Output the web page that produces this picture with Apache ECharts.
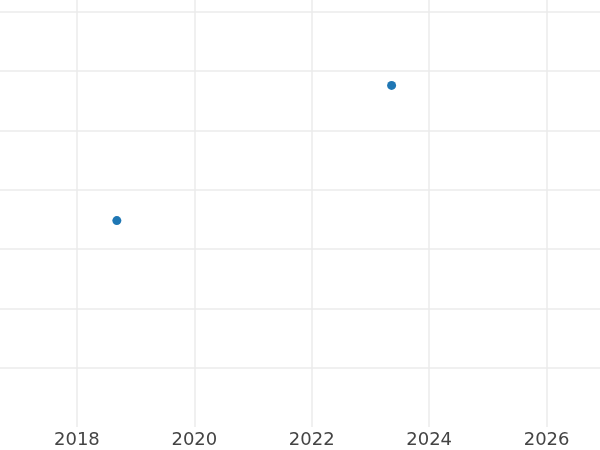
<!DOCTYPE html>
<html>
<head>
<meta charset="utf-8">
<script src="https://cdn.jsdelivr.net/npm/echarts@6/dist/echarts.min.js"></script>
<style>
  html, body { margin: 0; padding: 0; background: #fff; }
  #main { width: 600px; height: 450px; }
</style>
</head>
<body>
<div id="main"></div>
<script>
  // point data
  const years = [2018.68, 2023.36]
  const values = [3.48, 5.76]
  const xTicks = [2018, 2020, 2022, 2024, 2026]

  const gridColor = '#ebebeb'
  const points = years.map((y, i) => [y, values[i]])

  const chart = echarts.init(document.getElementById('main'))
  chart.setOption({
    animation: false,
    grid: {
      left: -40.5,
      right: -64,
      top: 0,
      bottom: 23,
      containLabel: false,
      outerBoundsMode: 'none'
    },
    xAxis: {
      type: 'value',
      min: 2016,
      max: 2028,
      interval: 2,
      axisLine: { show: false },
      axisTick: { show: false },
      axisLabel: {
        color: '#444',
        fontFamily: 'DejaVu Sans',
        fontSize: 18,
        margin: 4,
        formatter: v => (xTicks.includes(v) ? String(v) : '')
      },
      splitLine: { lineStyle: { color: gridColor, width: 1.5 } }
    },
    yAxis: {
      type: 'value',
      min: 0,
      max: 7.2,
      interval: 1,
      axisLine: { show: false },
      axisTick: { show: false },
      axisLabel: { show: false },
      splitLine: {
        lineStyle: {
          color: ['rgba(0,0,0,0)', gridColor, gridColor, gridColor, gridColor,
                  gridColor, gridColor, gridColor, 'rgba(0,0,0,0)'],
          width: 1.5
        }
      }
    },
    series: [
      {
        type: 'scatter',
        data: points,
        symbolSize: 9,
        itemStyle: { color: '#1f77b4', opacity: 1 }
      }
    ]
  })
</script>
</body>
</html>
